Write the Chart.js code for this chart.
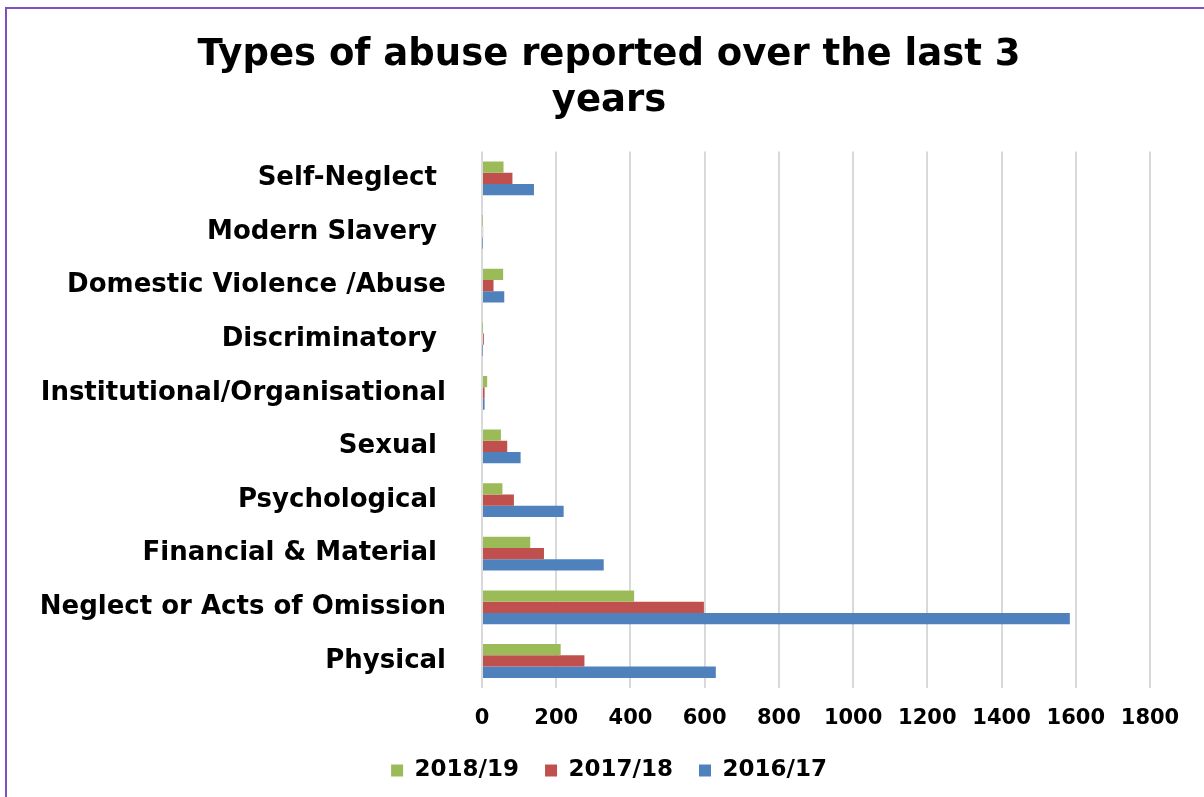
<!DOCTYPE html>
<html>
<head>
<meta charset="utf-8">
<script src="https://cdn.jsdelivr.net/npm/chart.js@4"></script>
<style>
  html, body { margin: 0; padding: 0; background: #fff; overflow: hidden; }
  #frame {
    position: absolute; left: 5px; top: 7px;
    width: 1210px; height: 800px;
    border: 2px solid #7f4fbf; box-sizing: border-box;
  }
  #wrap { position: absolute; left: 0; top: 0; width: 1204px; height: 790px; }
</style>
</head>
<body>
<div id="frame">
  <div id="wrap"><canvas id="abuseChart"></canvas></div>
</div>
<script>
// abuse categories, top to bottom as drawn
const categories = [
  'Self-Neglect ',
  'Modern Slavery ',
  'Domestic Violence /Abuse',
  'Discriminatory ',
  'Institutional/Organisational',
  'Sexual ',
  'Psychological ',
  'Financial & Material ',
  'Neglect or Acts of Omission',
  'Physical'
];

const seriesNames = ['2018/19', '2017/18', '2016/17'];
const seriesColors = ['#9bbb59', '#c0504d', '#4f81bd'];

const reports2018 = [58, 1, 57, 1, 14, 51, 55, 130, 410, 212];
const reports2017 = [82, 3, 31, 5, 7, 68, 86, 167, 598, 276];
const reports2016 = [140, 1, 60, 1, 7, 104, 220, 328, 1584, 630];

const xTicks = [0, 200, 400, 600, 800, 1000, 1200, 1400, 1600, 1800];

const fontFamily = "Verdana, 'DejaVu Sans', sans-serif";

const ctx = document.getElementById('abuseChart').getContext('2d');
new Chart(ctx, {
  type: 'bar',
  data: {
    labels: categories,
    datasets: [reports2018, reports2017, reports2016].map((values, i) => ({
      label: seriesNames[i],
      data: values,
      backgroundColor: seriesColors[i],
      borderWidth: 0,
      barPercentage: 1,
      categoryPercentage: 0.63
    }))
  },
  options: {
    indexAxis: 'y',
    responsive: true,
    maintainAspectRatio: false,
    animation: false,
    layout: { padding: { left: 24, right: 24, top: 23, bottom: 7 } },
    plugins: {
      title: {
        display: true,
        text: ['Types of abuse reported over the last 3', 'years'],
        color: '#000',
        font: { family: fontFamily, size: 37, weight: 'bold', lineHeight: 1.25 },
        padding: { top: 0, bottom: 27 }
      },
      legend: {
        position: 'bottom',
        labels: {
          color: '#000',
          boxWidth: 12,
          boxHeight: 12,
          padding: 10,
          font: { family: fontFamily, size: 23, weight: 'bold' },
          // wider gap between the legend entries
          generateLabels: chart => {
            const items = Chart.defaults.plugins.legend.labels.generateLabels(chart);
            items.forEach((item, i) => {
              if (i < items.length - 1) item.text += '  ';
            });
            return items;
          }
        }
      },
      tooltip: { enabled: false }
    },
    scales: {
      x: {
        min: 0,
        max: 1800,
        afterBuildTicks: axis => { axis.ticks = xTicks.map(v => ({ value: v })); },
        afterFit: axis => { axis.paddingRight = 61; },
        grid: { color: '#d9d9d9', lineWidth: 2, drawTicks: false },
        border: { display: false },
        ticks: {
          color: '#000',
          padding: 18,
          callback: v => String(v),
          font: { family: fontFamily, size: 21, weight: 'bold' }
        }
      },
      y: {
        grid: { display: false },
        border: { display: false },
        afterFit: axis => { axis.width = 451; },
        ticks: {
          color: '#000',
          padding: 28,
          autoSkip: false,
          font: { family: fontFamily, size: 26, weight: 'bold' }
        }
      }
    }
  }
});
</script>
</body>
</html>
